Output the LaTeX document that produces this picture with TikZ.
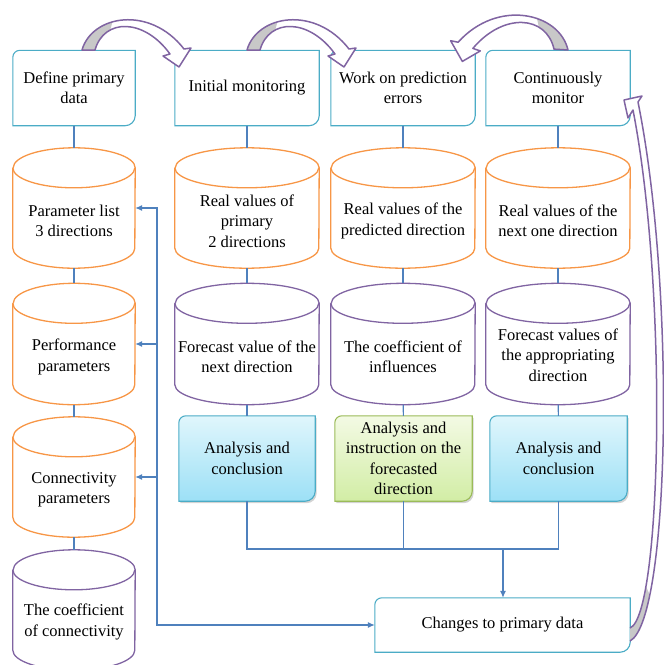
\documentclass[tikz,border=0pt]{standalone}
\usepackage{fontspec}
\setmainfont{Liberation Serif}
\usetikzlibrary{arrows.meta, positioning, calc, shadows, backgrounds}
\definecolor{boxcyan}{RGB}{75,172,198}
\definecolor{drumorange}{RGB}{247,150,70}
\definecolor{drumpurple}{RGB}{128,100,162}
\definecolor{linkblue}{RGB}{79,129,189}
\definecolor{bendgray}{RGB}{200,200,200}
\definecolor{anatop}{RGB}{224,246,252}
\definecolor{anabot}{RGB}{156,224,246}
\definecolor{insttop}{RGB}{243,250,228}
\definecolor{instbot}{RGB}{210,237,165}
\definecolor{instline}{RGB}{155,187,89}

% frame with rounded top-left and bottom-right corners
\newcommand{\diagframe}[2][]{%
  \draw[#1] (#2.south west) -- ([yshift=-7pt]#2.north west)
    arc[start angle=180, end angle=90, radius=7pt] -- (#2.north east)
    -- ([yshift=10pt]#2.south east)
    arc[start angle=0, end angle=-90, radius=10pt] -- cycle;}

% cylinder outline round a node: style, node, half width
\newcommand{\drumframe}[3][]{%
  \draw[#1] ([yshift=-20pt]#2.north west) -- ([yshift=20pt]#2.south west)
    arc[x radius=#3, y radius=20pt, start angle=180, end angle=360]
    -- ([yshift=-20pt]#2.north east)
    arc[x radius=#3, y radius=20pt, start angle=0, end angle=180];
  \draw[#1] ([yshift=-20pt]#2.north west)
    arc[x radius=#3, y radius=20pt, start angle=180, end angle=360];}

% curved block arrow, drawn from its foot
\newcommand{\bentarrow}{%
  \fill[white] (0,0) .. controls (10,-35) and (68,-45) .. (102,-1) -- (109,-2) -- (97,17)
    -- (81,6) -- (88,4) .. controls (62,-32) and (22,-32) .. (13,0) -- cycle;
  \fill[bendgray] (0,0) .. controls (4,-14) and (15.7,-24) .. (30.4,-28.1) -- (28.3,-20.1)
    .. controls (21.2,-16.3) and (15.7,-9.6) .. (13,0) -- cycle;
  \draw[bendline] (0,0) .. controls (10,-35) and (68,-45) .. (102,-1) -- (109,-2) -- (97,17)
    -- (81,6) -- (88,4) .. controls (62,-32) and (22,-32) .. (13,0) -- cycle;}

\begin{document}
\begin{tikzpicture}[x=1pt, y=-1pt,
  font=\fontsize{16.5}{20.5}\selectfont,
  >={Latex[length=7pt,width=6pt]},
  topbox/.style={minimum width=144pt, minimum height=75pt, align=center, inner sep=1pt},
  drum/.style={minimum width=144pt, minimum height=120pt, inner sep=0pt},
  drumtext/.style={align=center, inner sep=0pt},
  link/.style={draw=linkblue, line width=1.1pt},
  bendline/.style={draw=drumpurple, line width=1.5pt, line join=round},
  frame/.style={draw=boxcyan, line width=1.1pt, fill=white},
  orangeframe/.style={draw=drumorange, line width=1.3pt},
  purpleframe/.style={draw=drumpurple, line width=1.3pt},
  anaframe/.style={draw=boxcyan, line width=1.1pt, top color=anatop, bottom color=anabot,
    drop shadow={shadow xshift=1.5pt, shadow yshift=-2pt, opacity=0.35}},
  instframe/.style={draw=instline, line width=1.1pt, top color=insttop, bottom color=instbot,
    drop shadow={shadow xshift=1.5pt, shadow yshift=-2pt, opacity=0.35}}]
\useasboundingbox (0,0) rectangle (664,665);

% Top row
\node[topbox, minimum width=122pt] (define) at (74,88) {Define primary\\data};
\node[topbox] (initial) at (247,88) {Initial monitoring};
\node[topbox] (errors) at (403,88) {Work on prediction\\errors};
\node[topbox] (monitor) at (558,88) {Continuously\\monitor};

% Left column
\node[drum, minimum width=122pt] (plist) at (74,208) {};
\node[drumtext] (plist-t) at ([yshift=-13pt]plist.center) {Parameter list\\3 directions};
\node[drum, minimum width=122pt, minimum height=121pt] (perf) at (74,344) {};
\node[drumtext] (perf-t) at ([yshift=-13pt]perf.center) {Performance\\parameters};
\node[drum, minimum width=122pt] (conn) at (74,477) {};
\node[drumtext] (conn-t) at ([yshift=-13pt]conn.center) {Connectivity\\parameters};
\node[drum, minimum width=122pt] (coef) at (74,610) {};
\node[drumtext] (coef-t) at ([yshift=-12pt]coef.center) {The coefficient\\of connectivity};

% Data columns
\node[drum] (real1) at (247,208) {};
\node[drumtext] (real1-t) at ([yshift=-13pt]real1.center) {Real values of\\primary\\2 directions};
\node[drum, minimum height=121pt] (fore1) at (247,344) {};
\node[drumtext] (fore1-t) at ([yshift=-13pt]fore1.center) {Forecast value of the\\next direction};
\node[drum] (real2) at (403,208) {};
\node[drumtext] (real2-t) at ([yshift=-13pt]real2.center) {Real values of the\\predicted direction};
\node[drum, minimum height=121pt] (coeff2) at (403,344) {};
\node[drumtext] (coeff2-t) at ([yshift=-13pt]coeff2.center) {The coefficient of\\influences};
\node[drum] (real3) at (558,208) {};
\node[drumtext] (real3-t) at ([yshift=-13pt]real3.center) {Real values of the\\next one direction};
\node[drum, minimum height=121pt] (fore3) at (558,344) {};
\node[drumtext] (fore3-t) at ([yshift=-11pt]fore3.center) {Forecast values of\\the appropriating\\direction};

% Analysis
\node[topbox, minimum width=136pt, minimum height=85pt] (ana1) at (247,458.5) {Analysis and\\conclusion};
\node[topbox, minimum width=137pt, minimum height=85pt] (ana2) at (403.5,458.5) {Analysis and\\instruction on the\\forecasted\\direction};
\node[topbox, minimum width=137pt, minimum height=85pt] (ana3) at (558.5,458.5) {Analysis and\\conclusion};

% Output
\node[topbox, minimum width=255pt, minimum height=54pt] (changes) at (502.5,625) {Changes to primary data};

\begin{pgfonlayer}{background}
\diagframe[frame]{define}
\diagframe[frame]{initial}
\diagframe[frame]{errors}
\diagframe[frame]{monitor}
\drumframe[orangeframe]{plist}{61pt}
\drumframe[orangeframe]{perf}{61pt}
\drumframe[orangeframe]{conn}{61pt}
\drumframe[purpleframe]{coef}{61pt}
\drumframe[orangeframe]{real1}{72pt}
\drumframe[purpleframe]{fore1}{72pt}
\drumframe[orangeframe]{real2}{72pt}
\drumframe[purpleframe]{coeff2}{72pt}
\drumframe[orangeframe]{real3}{72pt}
\drumframe[purpleframe]{fore3}{72pt}
\diagframe[anaframe]{ana1}
\diagframe[instframe]{ana2}
\diagframe[anaframe]{ana3}
\diagframe[frame]{changes}
\end{pgfonlayer}

% Columns
\draw[link] (define) -- (plist);
\draw[link] (plist) -- (perf);
\draw[link] (perf) -- (conn);
\draw[link] (conn) -- (coef);
\draw[link] (initial) -- (real1);
\draw[link] (real1) -- (fore1);
\draw[link] (fore1) -- (ana1);
\draw[link] (errors) -- (real2);
\draw[link] (real2) -- (coeff2);
\draw[link] (coeff2) -- (ana2);
\draw[link] (monitor) -- (real3);
\draw[link] (real3) -- (fore3);
\draw[link] (fore3) -- (ana3);

% Collecting line
\coordinate (bus) at (503,549);
\draw[link] (ana1) |- (bus) -| (ana3);
\draw[link] (ana2) -- (ana2 |- bus);
\draw[link, ->] (bus) -- (bus |- changes.north);

% Feedback to the parameters
\coordinate (fb) at (157,625);
\draw[link, <->] (plist.east) -| (fb) -- (changes.west);
\draw[link, ->] (perf.east -| fb) -- (perf.east);
\draw[link, ->] (conn.east -| fb) -- (conn.east);

% Curved arrows
\begin{scope}[shift={(82,50)}]
\bentarrow
\end{scope}
\begin{scope}[shift={(247,50)}]
\bentarrow
\end{scope}
\begin{scope}[shift={(568,50)}, rotate=-3.5, xscale=-1.08, yscale=1.05]
\bentarrow
\end{scope}
\fill[white] (630,641) .. controls (670,620) and (676,290) .. (638,102) -- (642,96) -- (624,100)
  -- (628,118) -- (633,110) .. controls (668,290) and (662,615) .. (630,628) -- cycle;
\fill[bendgray] (630,641) .. controls (638,636.8) and (644.6,620.2) .. (649.8,594.9) -- (646,586.4)
  .. controls (641.8,610.3) and (636.4,625.4) .. (630,628) -- cycle;
\draw[bendline] (630,641) .. controls (670,620) and (676,290) .. (638,102) -- (642,96) -- (624,100)
  -- (628,118) -- (633,110) .. controls (668,290) and (662,615) .. (630,628);
\end{tikzpicture}
\end{document}
